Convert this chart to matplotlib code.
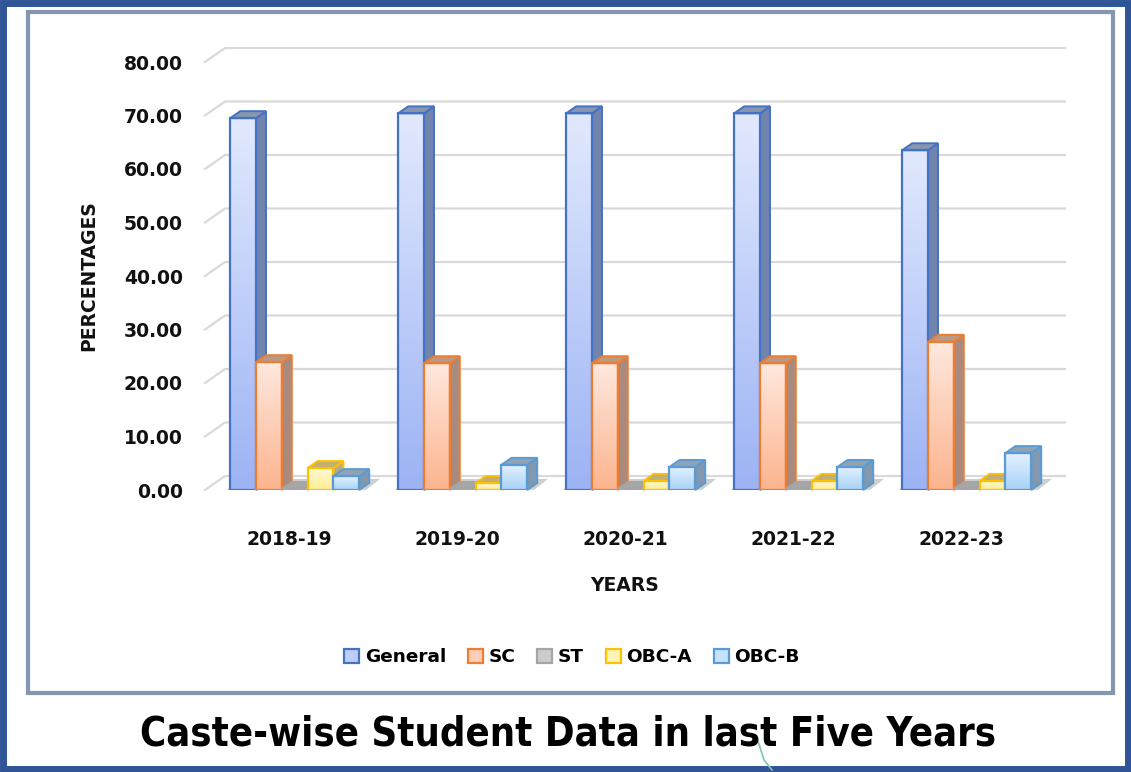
import os
import numpy as np
import matplotlib.pyplot as plt
from matplotlib import font_manager
from matplotlib.font_manager import FontProperties
from matplotlib.patches import Rectangle, Polygon, Patch
from matplotlib.colors import LinearSegmentedColormap, to_rgb

# ============================================================
# Data
# ============================================================

years = ["2018-19", "2019-20", "2020-21", "2021-22", "2022-23"]
series = ["General", "SC", "ST", "OBC-A", "OBC-B"]

general = [69.5, 70.4, 70.4, 70.4, 63.5]
sc = [23.9, 23.7, 23.7, 23.7, 27.7]
st = [0.2, 0.2, 0.2, 0.2, 0.2]
obc_a = [4.1, 1.3, 1.7, 1.7, 1.7]
obc_b = [2.6, 4.7, 4.3, 4.3, 6.9]

values = [general, sc, st, obc_a, obc_b]

yticks = np.arange(0, 81, 10)

# ============================================================
# Styles
# ============================================================

edge_cols = ["#4472C4", "#ED7D31", "#A5A5A5", "#FFC000", "#5B9BD5"]
grad_top = ["#E2E9FE", "#FFE8DE", "#D9D9D9", "#FFF9D6", "#E3F1FF"]
grad_bot = ["#9CB3F4", "#FCB48E", "#BFBFBF", "#FFEC94", "#A8D2F7"]
side_cols = ["#7084AE", "#A88A7E", "#A0A0A0", "#B4AB8A", "#8298AE"]

TXT = "#111111"

W, H = 1131, 772
DX, DY = 10, 7          # bar depth in pixels
WX, WY = 20, 14         # back wall offset in pixels
bar_w = 0.1536
grp_off = 0.15


def font_by_file(patterns):
    files = {os.path.basename(f.fname).lower().replace(" ", ""): f.fname
             for f in font_manager.fontManager.ttflist}
    for p in patterns:
        for b, full in files.items():
            if b.startswith(p):
                return full
    return None


title_file = font_by_file(["dejavusanscondensed-bold.", "liberationsansnarrow-bold.",
                           "notosans-condensedbold.", "robotocondensed-bold."])


def lab_fp(size):
    return FontProperties(family="DejaVu Sans", weight="bold", size=size)


fig = plt.figure(figsize=(W / 100, H / 100), dpi=100)
fig.patch.set_facecolor("white")

ax = fig.add_axes([205 / W, (H - 490) / H, 840 / W, 428 / H])
ax.set_xlim(0, 5)
ax.set_ylim(0, 80)
for s in ax.spines.values():
    s.set_visible(False)
ax.patch.set_alpha(0)


def disp(x, y):
    return ax.transData.transform((x, y))


# gridlines on back wall + diagonal to front
for v in yticks:
    fx, fy = disp(0, v)
    rx, _ = disp(5, v)
    ax.add_line(plt.Line2D([fx, fx + WX, rx + WX], [fy, fy + WY, fy + WY],
                           transform=None, color="#D9D9D9", lw=1.6, zorder=0,
                           clip_on=False))

# floor shadows under each group
for i in range(len(years)):
    x0, y0 = disp(i + grp_off - 0.02, 0)
    x1, _ = disp(i + grp_off + 5 * bar_w + 0.04, 0)
    ax.add_patch(Polygon([[x0, y0], [x1, y0], [x1 + WX - 6, y0 + WY - 3], [x0 + WX - 6, y0 + WY - 3]],
                         closed=True, transform=None, facecolor="#CFCFCF",
                         edgecolor="none", zorder=0.5, clip_on=False))


def mix(c, g, t):
    a = np.array(to_rgb(c))
    b = np.array(to_rgb(g))
    return tuple(a * (1 - t) + b * t)


grad = np.tile(np.linspace(0, 1, 100).reshape(-1, 1), (1, 4))

for s_i, vals in enumerate(values):
    cmap = LinearSegmentedColormap.from_list("g%d" % s_i, [grad_bot[s_i], grad_top[s_i]])
    z = 2 + s_i
    for i, v in enumerate(vals):
        x0 = i + grp_off + s_i * bar_w
        x1 = x0 + bar_w
        # gradient front face
        rect = Rectangle((x0, 0), bar_w, v, facecolor="none",
                         edgecolor=edge_cols[s_i], lw=1.6, zorder=z + 0.2)
        ax.add_patch(rect)
        im = ax.imshow(grad, extent=[x0, x1, 0, v], origin="lower",
                       aspect="auto", cmap=cmap, zorder=z, interpolation="bilinear")
        im.set_clip_path(rect)
        # side and top faces
        px0, py0 = disp(x0, 0)
        px1, py1 = disp(x1, v)
        side = [[px1, py0], [px1, py1], [px1 + DX, py1 + DY], [px1 + DX, py0 + DY]]
        top = [[px0, py1], [px1, py1], [px1 + DX, py1 + DY], [px0 + DX, py1 + DY]]
        ax.add_patch(Polygon(side, closed=True, transform=None,
                             facecolor=side_cols[s_i], edgecolor=edge_cols[s_i],
                             lw=1.4, zorder=z + 0.1, clip_on=False))
        ax.add_patch(Polygon(top, closed=True, transform=None,
                             facecolor=mix(edge_cols[s_i], "#A6A6A6", 0.7),
                             edgecolor=edge_cols[s_i], lw=1.4, zorder=z + 0.1,
                             clip_on=False))

ax.set_xlim(0, 5)
ax.set_ylim(0, 80)

ax.set_yticks(yticks)
ax.set_yticklabels(["%.2f" % t for t in yticks], color=TXT, fontproperties=lab_fp(13.5))
ax.set_xticks(np.arange(len(years)) + 0.5)
ax.set_xticklabels(years, color=TXT, fontproperties=lab_fp(13.5))
ax.tick_params(axis="y", length=0, pad=16)
ax.tick_params(axis="x", length=0, pad=29)

ax.set_xlabel("YEARS", labelpad=19, color=TXT, fontproperties=lab_fp(13.5))
ax.set_ylabel("PERCENTAGES", labelpad=18, color=TXT, fontproperties=lab_fp(13.5))

# legend
handles = [Patch(facecolor=mix(grad_top[k], grad_bot[k], 0.5), edgecolor=edge_cols[k],
                 lw=1.6, label=series[k]) for k in range(len(series))]
fig.legend(handles=handles, loc="center", bbox_to_anchor=(572 / W, 1 - 657 / H),
           ncol=5, frameon=False, prop=lab_fp(13.3),
           handlelength=0.8, handleheight=0.8, handletextpad=0.3, columnspacing=1.2)

# frames
fig.add_artist(Rectangle((28 / W, 1 - 693 / H), (1113 - 28) / W, (693 - 12) / H,
                         transform=fig.transFigure, facecolor="none",
                         edgecolor="#8497B0", lw=3))
fig.add_artist(Rectangle((3 / W, 3 / H), (W - 6) / W, (H - 6) / H,
                         transform=fig.transFigure, facecolor="none",
                         edgecolor="#2F5597", lw=5))

# small decorative stroke under the title
fig.add_artist(plt.Line2D([757 / W, 764 / W, 772 / W], [1 - 738 / H, 1 - 760 / H, 1 - 770 / H],
                          transform=fig.transFigure, color="#7FC4B8", lw=1.2))

# title, fitted to the reference width
if title_file:
    tfp = FontProperties(fname=title_file, size=30)
else:
    tfp = FontProperties(family="DejaVu Sans", weight="bold", size=30)
title = fig.text(568 / W, 1 - 735 / H, "Caste-wise Student Data in last Five Years",
                 ha="center", va="center", fontproperties=tfp, color="black")
r = fig.canvas.get_renderer()
tw = title.get_window_extent(r).width
title.set_fontsize(30 * 855 / tw)

fig.savefig("out.png", dpi=100)
